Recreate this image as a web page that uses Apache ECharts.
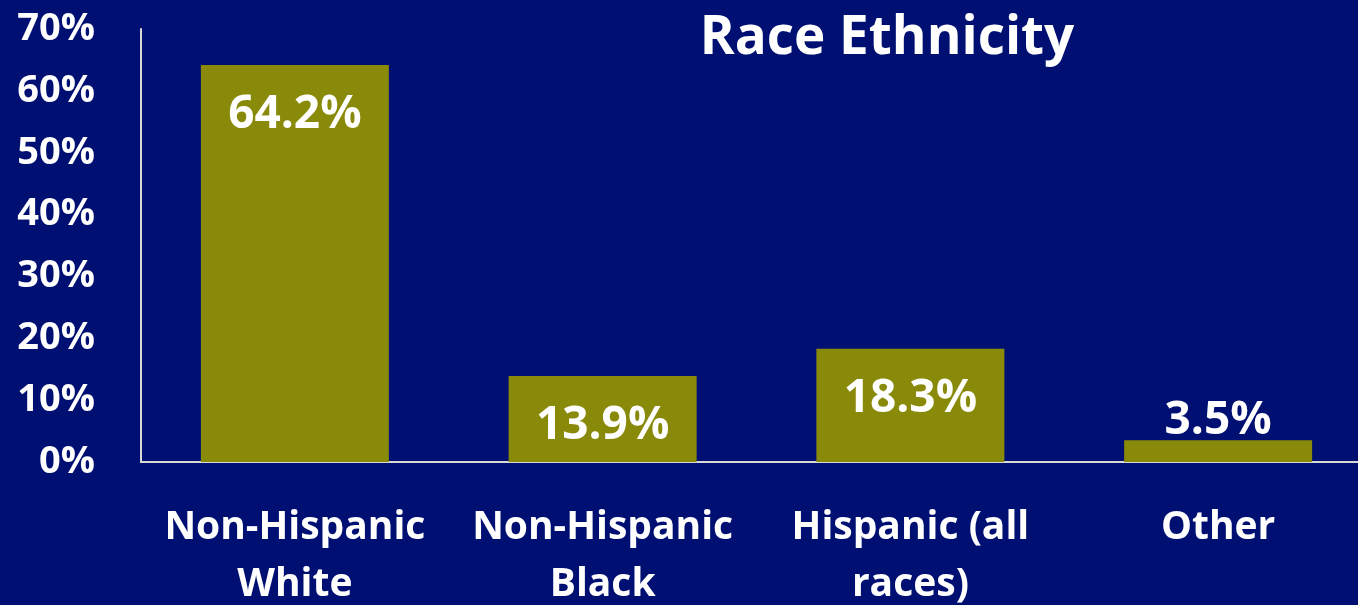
<!DOCTYPE html>
<html>
<head>
<meta charset="utf-8">
<script src="https://cdn.jsdelivr.net/npm/echarts@6/dist/echarts.min.js"></script>
<style>
  html, body { margin: 0; padding: 0; background: #000f72; }
  #chart { width: 1358px; height: 605px; }
</style>
</head>
<body>
<div id="chart"></div>
<script>
var categories = ['Non-Hispanic\nWhite', 'Non-Hispanic\nBlack', 'Hispanic (all\nraces)', 'Other'];
var shares = [64.2, 13.9, 18.3, 3.5];
var titleName = 'Race Ethnicity';

var font = '"Open Sans", sans-serif';
var chart = echarts.init(document.getElementById('chart'));

// small bars get their label above the bar
var barData = shares.map(function (v) {
  if (v < 10) {
    return { value: v, label: { position: 'top', distance: -4 } };
  }
  return v;
});

var option = {
  backgroundColor: '#000f72',
  title: {
    text: titleName,
    left: 882,
    top: 7,
    textAlign: 'center',
    textStyle: { color: '#fff', fontFamily: font, fontWeight: 'bold', fontSize: 53 }
  },
  grid: {
    left: 141, right: -14, top: 29, bottom: 143,
    containLabel: false,
    outerBoundsMode: 'none'
  },
  xAxis: {
    type: 'category',
    data: categories,
    axisLine: { lineStyle: { color: '#d9d9d9', width: 2 } },
    axisTick: { show: false },
    axisLabel: {
      color: '#fff', fontFamily: font, fontWeight: 'bold', fontSize: 39,
      lineHeight: 57, margin: 37, interval: 0
    }
  },
  yAxis: {
    type: 'value',
    min: 0,
    max: 70,
    interval: 10,
    axisLine: { show: true, lineStyle: { color: '#d9d9d9', width: 2 } },
    axisTick: { show: false },
    splitLine: { show: false },
    axisLabel: {
      color: '#fff', fontFamily: font, fontWeight: 'bold', fontSize: 38,
      margin: 46, formatter: '{value}%'
    }
  },
  series: [
    {
      type: 'bar',
      data: barData,
      barWidth: 188,
      itemStyle: { color: '#8a8a0a' },
      label: {
        show: true,
        position: 'insideTop',
        distance: 27,
        color: '#fff',
        fontFamily: font,
        fontWeight: 'bold',
        fontSize: 46,
        formatter: '{c}%'
      }
    }
  ]
};
chart.setOption(option);
</script>
</body>
</html>
